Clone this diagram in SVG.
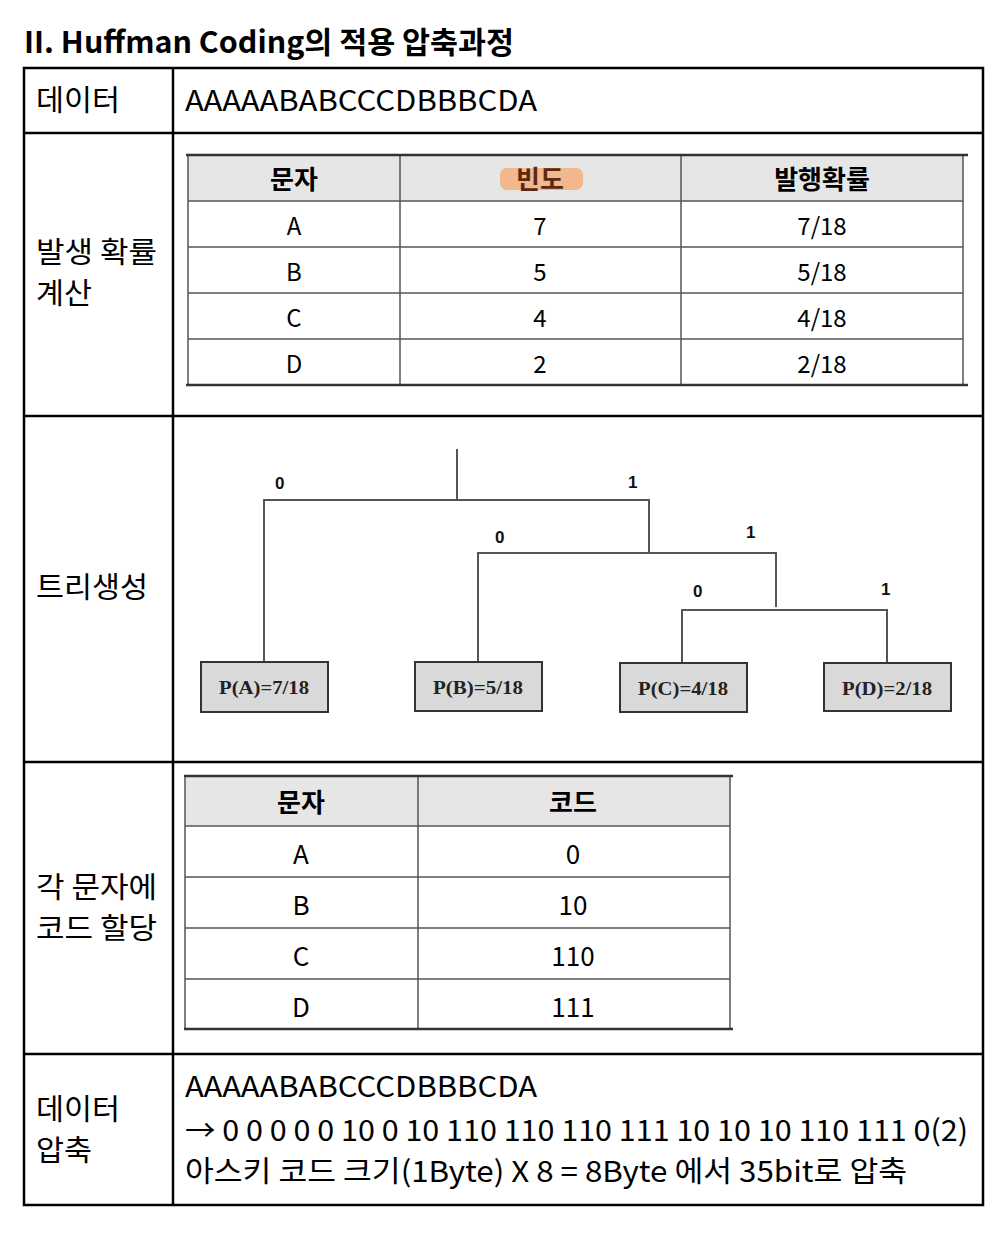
<svg xmlns="http://www.w3.org/2000/svg" width="1008" height="1236" viewBox="0 0 1008 1236">
<style>
.k{font-family:"Noto Sans CJK KR","Noto Sans",sans-serif;fill:#000}
.m{font-size:29px}
.t{font-size:24px;text-anchor:middle}
.th{font-size:26px;text-anchor:middle;font-weight:bold}
.t2{font-size:26px;text-anchor:middle}
.h{font-weight:bold}
.lbl{font-family:"Liberation Sans",Arial,sans-serif;font-weight:bold;font-size:17px;fill:#111}
.bx{fill:#d9d9d9;stroke:#333;stroke-width:2}
.bt{font-family:"Liberation Serif","Times New Roman",serif;font-weight:bold;font-size:19px;text-anchor:middle;fill:#222}
.outer{fill:none;stroke:#000;stroke-width:2.5}
.grid{fill:none;stroke:#555;stroke-width:1.5}
.edge{fill:none;stroke:#555;stroke-width:2}
</style>
<rect width="1008" height="1236" fill="#fff"/>
<text class="k h" x="24" y="53" font-size="30" textLength="490" lengthAdjust="spacingAndGlyphs">II. Huffman Coding의 적용 압축과정</text>
<g id="frame">
<rect class="outer" x="24" y="68" width="959" height="1137"/>
<line class="outer" x1="173" y1="68" x2="173" y2="1205"/>
<line class="outer" x1="24" y1="133" x2="983" y2="133"/>
<line class="outer" x1="24" y1="416" x2="983" y2="416"/>
<line class="outer" x1="24" y1="762" x2="983" y2="762"/>
<line class="outer" x1="24" y1="1054" x2="983" y2="1054"/>
</g>
<g id="row-data">
<text class="k m" x="36" y="111" textLength="84" lengthAdjust="spacingAndGlyphs">데이터</text>
<text class="k m" x="185" y="111" textLength="352" lengthAdjust="spacingAndGlyphs">AAAAABABCCCDBBBCDA</text>
</g>
<g id="row-prob">
<text class="k m" x="36" y="263" textLength="121" lengthAdjust="spacingAndGlyphs">발생 확률</text>
<text class="k m" x="36" y="304" textLength="56" lengthAdjust="spacingAndGlyphs">계산</text>
<rect x="188" y="155" width="775" height="46" fill="#e6e6e6"/>
<rect x="500" y="168" width="83" height="22" rx="7" fill="#f4b183" opacity="0.9"/>
<g class="grid">
<rect x="188" y="155" width="775" height="230"/>
<line x1="188" y1="201" x2="963" y2="201"/>
<line x1="188" y1="247" x2="963" y2="247"/>
<line x1="188" y1="293" x2="963" y2="293"/>
<line x1="188" y1="339" x2="963" y2="339"/>
<line x1="400" y1="155" x2="400" y2="385"/>
<line x1="681" y1="155" x2="681" y2="385"/>
</g>
<line x1="186" y1="155" x2="968" y2="155" stroke="#333" stroke-width="2.5"/>
<line x1="186" y1="385" x2="968" y2="385" stroke="#333" stroke-width="2.5"/>
<text class="k th" x="294" y="189">문자</text>
<text class="k th" x="540" y="189" style="fill:#5a2a10">빈도</text>
<text class="k th" x="822" y="189">발행확률</text>
<text class="k t" x="294" y="235">A</text><text class="k t" x="540" y="235">7</text><text class="k t" x="822" y="235">7/18</text>
<text class="k t" x="294" y="281">B</text><text class="k t" x="540" y="281">5</text><text class="k t" x="822" y="281">5/18</text>
<text class="k t" x="294" y="327">C</text><text class="k t" x="540" y="327">4</text><text class="k t" x="822" y="327">4/18</text>
<text class="k t" x="294" y="373">D</text><text class="k t" x="540" y="373">2</text><text class="k t" x="822" y="373">2/18</text>
</g>
<g id="row-tree-label">
<text class="k m" x="36" y="598" textLength="112" lengthAdjust="spacingAndGlyphs">트리생성</text>
</g>
<g id="connectors">
<polyline class="edge" points="457,449 457,500"/>
<polyline class="edge" points="264,662 264,500 649,500 649,553"/>
<polyline class="edge" points="478,662 478,553 776,553 776,607"/>
<polyline class="edge" points="682,662 682,610 887,610 887,662"/>
</g>
<g id="edge-labels">
<text class="lbl" x="275" y="489">0</text>
<text class="lbl" x="628" y="488">1</text>
<text class="lbl" x="495" y="543">0</text>
<text class="lbl" x="746" y="538">1</text>
<text class="lbl" x="693" y="597">0</text>
<text class="lbl" x="881" y="595">1</text>
</g>
<g id="node-A"><rect class="bx" x="201" y="662" width="127" height="50"/><text class="bt" x="264" y="694" textLength="90" lengthAdjust="spacingAndGlyphs">P(A)=7/18</text></g>
<g id="node-B"><rect class="bx" x="415" y="662" width="127" height="49"/><text class="bt" x="478" y="694" textLength="90" lengthAdjust="spacingAndGlyphs">P(B)=5/18</text></g>
<g id="node-C"><rect class="bx" x="620" y="663" width="127" height="49"/><text class="bt" x="683" y="695" textLength="90" lengthAdjust="spacingAndGlyphs">P(C)=4/18</text></g>
<g id="node-D"><rect class="bx" x="824" y="663" width="127" height="48"/><text class="bt" x="887" y="695" textLength="90" lengthAdjust="spacingAndGlyphs">P(D)=2/18</text></g>
<g id="row-code">
<text class="k m" x="36" y="898" textLength="121" lengthAdjust="spacingAndGlyphs">각 문자에</text>
<text class="k m" x="36" y="939" textLength="121" lengthAdjust="spacingAndGlyphs">코드 할당</text>
<rect x="185" y="776" width="545" height="50" fill="#e6e6e6"/>
<g class="grid">
<rect x="185" y="776" width="545" height="253"/>
<line x1="185" y1="826" x2="730" y2="826"/>
<line x1="185" y1="877" x2="730" y2="877"/>
<line x1="185" y1="928" x2="730" y2="928"/>
<line x1="185" y1="979" x2="730" y2="979"/>
<line x1="418" y1="776" x2="418" y2="1029"/>
</g>
<line x1="184" y1="776" x2="733" y2="776" stroke="#333" stroke-width="2.5"/>
<line x1="184" y1="1029" x2="733" y2="1029" stroke="#333" stroke-width="2.5"/>
<text class="k t2 h" x="301" y="812">문자</text>
<text class="k t2 h" x="573" y="812">코드</text>
<text class="k t2" x="301" y="864">A</text><text class="k t2" x="573" y="864">0</text>
<text class="k t2" x="301" y="915">B</text><text class="k t2" x="573" y="915">10</text>
<text class="k t2" x="301" y="966">C</text><text class="k t2" x="573" y="966">110</text>
<text class="k t2" x="301" y="1017">D</text><text class="k t2" x="573" y="1017">111</text>
</g>
<g id="row-compress">
<text class="k m" x="36" y="1120" textLength="84" lengthAdjust="spacingAndGlyphs">데이터</text>
<text class="k m" x="36" y="1161" textLength="56" lengthAdjust="spacingAndGlyphs">압축</text>
<text class="k m" x="185" y="1097" textLength="352" lengthAdjust="spacingAndGlyphs">AAAAABABCCCDBBBCDA</text>
<text class="k m" x="185" y="1141" textLength="783" lengthAdjust="spacingAndGlyphs">→ 0 0 0 0 0 10 0 10 110 110 110 111 10 10 10 110 111 0(2)</text>
<text class="k m" x="185" y="1182" textLength="722" lengthAdjust="spacingAndGlyphs">아스키 코드 크기(1Byte) X 8 = 8Byte 에서 35bit로 압축</text>
</g>
</svg>
